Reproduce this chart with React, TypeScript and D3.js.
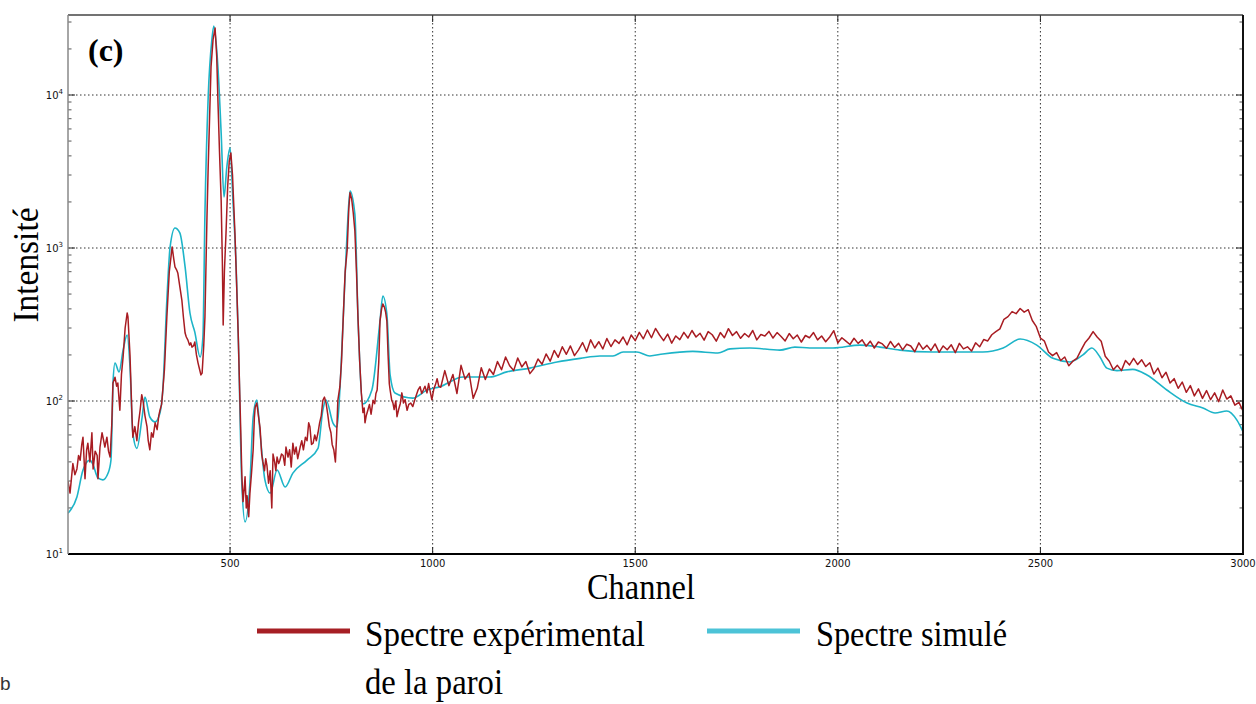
import * as d3 from 'd3';

const width = 1256;
const height = 704;
const plot = { left: 68, right: 1243, top: 15, bottom: 554 };

// experimental spectrum, peak region [channel, counts]
const expPeaks: [number, number][] = [
  [100, 30], [105, 25], [112, 39], [117, 33], [122, 36], [126, 44], [130, 41], [134, 52], [137, 58], [142, 31],
  [146, 48], [149, 53], [154, 40], [159, 62], [162, 36], [167, 47], [172, 44], [174, 31], [179, 50], [184, 62],
  [188, 55], [191, 50], [196, 58], [200, 47], [204, 43], [208, 70], [211, 131], [216, 143], [220, 125], [223, 131],
  [228, 87], [232, 150], [236, 194], [241, 300], [246, 376], [248, 354], [253, 200], [258, 78], [260, 58], [265, 68],
  [270, 55], [274, 72], [278, 87], [282, 110], [285, 101], [290, 80], [295, 68], [298, 55], [302, 48], [306, 62],
  [310, 58], [315, 72], [320, 65], [324, 80], [327, 87], [331, 95], [334, 118], [338, 160], [344, 354], [350, 700],
  [357, 1016], [361, 850], [364, 752], [368, 720], [371, 687], [376, 560], [381, 457], [385, 350], [389, 278], [392, 262],
  [396, 250], [400, 232], [403, 240], [406, 225], [410, 230], [413, 243], [417, 200], [421, 177], [425, 160], [428, 148],
  [431, 152], [435, 230], [438, 354], [443, 1594], [446, 3384], [450, 8000], [453, 15240], [458, 23000], [463, 27400], [467, 18000],
  [470, 9270], [474, 4200], [478, 2060], [481, 800], [483, 314], [486, 700], [490, 1254], [494, 2500], [498, 3700], [502, 4180],
  [506, 3000], [512, 1254], [516, 600], [520, 278], [524, 110], [527, 55], [529, 33], [532, 22], [535, 27], [537, 32],
  [540, 20], [542, 24], [546, 17.5], [549, 25], [553, 34], [557, 48], [560, 78], [562, 91], [566, 97], [570, 80],
  [574, 67], [578, 45], [581, 40], [585, 35], [588, 42], [591, 38], [595, 29], [599, 35], [603, 20], [606, 45],
  [610, 40], [613, 35], [616, 43], [620, 39], [623, 41], [627, 45], [631, 44], [635, 38], [638, 50], [643, 43],
  [647, 48], [651, 37], [655, 53], [659, 45], [663, 50], [667, 42], [673, 50], [677, 55], [681, 48], [686, 58],
  [690, 55], [694, 72], [697, 68], [701, 52], [705, 53], [709, 60], [713, 55], [717, 62], [721, 72], [725, 80],
  [729, 101], [733, 106], [737, 97], [741, 82], [745, 68], [749, 62], [752, 52], [756, 48], [760, 40], [763, 60],
  [766, 101], [771, 124], [775, 180], [779, 333], [784, 700], [789, 971], [793, 1800], [796, 2300], [800, 2100], [804, 1700],
  [808, 1300], [812, 700], [816, 333], [820, 180], [824, 113], [828, 84], [831, 90], [833, 72], [836, 80], [840, 87],
  [844, 95], [848, 82], [853, 101], [857, 96], [860, 112], [863, 118], [867, 180], [870, 333], [874, 400], [877, 431],
  [881, 410], [884, 380], [887, 333], [890, 200], [893, 130], [895, 118], [899, 101], [902, 97], [905, 88], [909, 100],
  [912, 79], [916, 88], [920, 96], [924, 113], [928, 97], [932, 102], [937, 87], [941, 95], [946, 97], [951, 92],
  [955, 100], [960, 110], [964, 118], [969, 124], [973, 112], [977, 118], [981, 125], [986, 113], [990, 130], [994, 115],
  [998, 102], [1003, 120], [1007, 128], [1011, 140], [1015, 125], [1020, 123],
];

// experimental spectrum, continuum, one value every 10 channels from 1030
const expTailStart = 1030;
const expTailStep = 10;
const expTail = [
  158, 126, 149, 112, 171, 139, 152, 104, 121, 165,
  138, 162, 149, 181, 160, 194, 170, 158, 191, 167,
  181, 151, 163, 188, 174, 203, 182, 214, 193, 226,
  202, 229, 198, 216, 241, 210, 251, 222, 244, 219,
  256, 227, 251, 238, 262, 233, 270, 248, 281, 255,
  291, 259, 298, 270, 248, 274, 239, 266, 252, 281,
  258, 289, 262, 277, 250, 284, 271, 246, 280, 259,
  297, 268, 284, 257, 276, 262, 289, 251, 272, 266,
  285, 258, 280, 264, 247, 276, 255, 270, 243, 268,
  259, 280, 251, 266, 244, 262, 288, 240, 259, 246,
  234, 257, 238, 251, 228, 246, 222, 243, 236, 221,
  245, 224, 238, 216, 235, 229, 210, 240, 218, 231,
  214, 236, 208, 229, 216, 233, 207, 238, 219, 226,
  212, 240, 226, 252, 247, 271, 284, 296, 342, 356,
  384, 372, 402, 381, 395, 336, 306, 258, 246, 209,
  198, 207, 184, 194, 170, 182, 190, 214, 240, 258,
  284, 262, 246, 196, 182, 160, 171, 158, 184, 172,
  190, 173, 186, 168, 178, 150, 164, 142, 154, 131,
  140, 121, 133, 114, 126, 108, 120, 104, 117, 102,
  113, 99, 118, 103, 108, 94, 98, 86,
];

// simulated spectrum [channel, counts]
const simulated: [number, number][] = [
  [100, 18.5], [122, 23.6], [137, 35.4], [154, 41.1], [162, 38.2], [174, 31.4], [186, 30.5], [199, 33.8], [206, 41], [209, 75],
  [211, 131], [216, 177], [226, 155], [236, 215], [246, 270], [253, 167], [260, 61.8], [270, 49], [283, 78.6], [290, 106],
  [302, 78.6], [315, 73], [327, 83.5], [334, 118], [344, 457], [352, 1016], [364, 1352], [376, 1254], [389, 752], [401, 376],
  [413, 282], [426, 194], [433, 262], [438, 1694], [446, 9700], [455, 22860], [460, 28250], [470, 15240], [478, 5650], [485, 2155],
  [492, 3384], [500, 4510], [507, 2060], [515, 752], [520, 278], [529, 29], [537, 16.2], [549, 29], [557, 78.6], [566, 101.6],
  [574, 61.8], [586, 30.5], [599, 25], [616, 35.4], [636, 27.4], [655, 33.8], [690, 41.1], [717, 49], [729, 87.3], [737, 101.6],
  [754, 71.8], [764, 67.6], [771, 118], [779, 333], [789, 1274], [796, 2360], [808, 1667], [816, 333], [828, 95.5], [850, 118],
  [870, 333], [877, 486], [887, 370], [895, 148], [907, 112.8], [951, 104.5], [986, 118], [1018, 124], [1075, 143.6], [1141, 143.6],
  [1183, 155], [1240, 164], [1307, 180], [1364, 190], [1413, 197], [1445, 197], [1470, 209], [1504, 209], [1536, 197], [1568, 203],
  [1642, 211], [1704, 206], [1734, 219], [1783, 222], [1857, 215], [1894, 225], [1931, 222], [1988, 222], [2055, 232], [2104, 225],
  [2153, 215], [2235, 209], [2326, 209], [2358, 209], [2408, 222], [2450, 254], [2491, 232], [2531, 190], [2573, 180], [2605, 200],
  [2627, 222], [2647, 194], [2664, 164], [2689, 158], [2728, 161], [2763, 148], [2812, 118], [2862, 97], [2901, 90], [2931, 83.5],
  [2960, 86], [2985, 75], [3000, 63],
];

const xTicks = [500, 1000, 1500, 2000, 2500, 3000];
const yMajor = [10, 100, 1000, 10000];

const serif = '"Liberation Serif", "Times New Roman", serif';
const sans = '"DejaVu Sans", sans-serif';
const redColor = '#a81c22';
const cyanColor = '#1db4c8';

export default function App() {
  const x = d3.scaleLinear().domain([100, 3000]).range([plot.left, plot.right]);
  const yTop = Math.pow(10, 1 + (plot.bottom - plot.top) / 153);
  const y = d3.scaleLog().domain([10, yTop]).range([plot.bottom, plot.top]);

  const experimental: [number, number][] = expPeaks.concat(
    expTail.map((v, i) => [expTailStart + i * expTailStep, v] as [number, number])
  );

  const rawLine = d3
    .line<[number, number]>()
    .x((d) => x(d[0]))
    .y((d) => y(d[1]));
  const smoothLine = d3
    .line<[number, number]>()
    .x((d) => x(d[0]))
    .y((d) => y(d[1]))
    .curve(d3.curveMonotoneX);

  const minor = y.ticks().filter((t) => !yMajor.includes(t) && t < yTop);

  return (
    <svg width={width} height={height} style={{ position: 'absolute', left: 0, top: 0, background: '#fff' }}>
      <defs>
        <clipPath id="plotClip">
          <rect x={plot.left} y={plot.top} width={plot.right - plot.left} height={plot.bottom - plot.top} />
        </clipPath>
      </defs>

      {/* grid */}
      <g stroke="#333" strokeWidth={1} strokeDasharray="1.5 2.5">
        {xTicks.slice(0, -1).map((t) => (
          <line key={'gx' + t} x1={x(t)} x2={x(t)} y1={plot.top} y2={plot.bottom} />
        ))}
        {yMajor.slice(1).map((t) => (
          <line key={'gy' + t} x1={plot.left} x2={plot.right} y1={y(t)} y2={y(t)} />
        ))}
      </g>

      {/* ticks */}
      <g stroke="#222" strokeWidth={1}>
        {xTicks.map((t) => (
          <g key={'tx' + t}>
            <line x1={x(t)} x2={x(t)} y1={plot.bottom} y2={plot.bottom - 7} />
            <line x1={x(t)} x2={x(t)} y1={plot.top} y2={plot.top + 7} />
          </g>
        ))}
        {yMajor.map((t) => (
          <g key={'ty' + t}>
            <line x1={plot.left} x2={plot.left + 7} y1={y(t)} y2={y(t)} />
            <line x1={plot.right} x2={plot.right - 7} y1={y(t)} y2={y(t)} />
          </g>
        ))}
        {minor.map((t) => (
          <g key={'tm' + t} stroke="#555">
            <line x1={plot.left} x2={plot.left + 3.5} y1={y(t)} y2={y(t)} />
            <line x1={plot.right} x2={plot.right - 3.5} y1={y(t)} y2={y(t)} />
          </g>
        ))}
      </g>

      {/* curves */}
      <g clipPath="url(#plotClip)" fill="none" strokeLinejoin="round">
        <path d={smoothLine(simulated) || ''} stroke={cyanColor} strokeWidth={1.6} />
        <path d={rawLine(experimental) || ''} stroke={redColor} strokeWidth={1.5} />
      </g>

      {/* frame */}
      <line x1={plot.left} x2={plot.right} y1={plot.top} y2={plot.top} stroke="#444" strokeWidth={1.5} />
      <line x1={plot.left} x2={plot.right + 1} y1={plot.bottom} y2={plot.bottom} stroke="#000" strokeWidth={2} />
      <line x1={plot.left} x2={plot.left} y1={plot.top} y2={plot.bottom} stroke="#888" strokeWidth={1.5} />
      <line x1={plot.right} x2={plot.right} y1={plot.top} y2={plot.bottom} stroke="#111" strokeWidth={2} />

      {/* tick labels */}
      <g fontFamily={sans} fontSize={10} fill="#111">
        {xTicks.map((t) => (
          <text key={'lx' + t} x={x(t)} y={plot.bottom + 13} textAnchor="middle">
            {t}
          </text>
        ))}
        {yMajor.map((t) => (
          <text key={'ly' + t} x={plot.left - 5} y={y(t) + 4} textAnchor="end">
            10
            <tspan dy={-5} fontSize={7}>
              {Math.round(Math.log10(t))}
            </tspan>
          </text>
        ))}
      </g>

      {/* panel label */}
      <text x={88} y={61} fontFamily={serif} fontWeight="bold" fontSize={32} fill="#000">
        (c)
      </text>

      {/* axis titles */}
      <text
        x={641}
        y={599}
        fontFamily={serif}
        fontSize={36}
        textAnchor="middle"
        textLength={108}
        lengthAdjust="spacingAndGlyphs"
        fill="#000"
      >
        Channel
      </text>
      <text
        transform="translate(38,265) rotate(-90)"
        fontFamily={serif}
        fontSize={36}
        textAnchor="middle"
        textLength={115}
        lengthAdjust="spacingAndGlyphs"
        fill="#000"
      >
        Intensité
      </text>

      {/* legend */}
      <line x1={257} x2={350} y1={631} y2={631} stroke="#a61f24" strokeWidth={5} />
      <text x={365} y={646} fontFamily={serif} fontSize={36} textLength={280} lengthAdjust="spacingAndGlyphs" fill="#000">
        Spectre  expérimental
      </text>
      <text x={365} y={694} fontFamily={serif} fontSize={36} textLength={138} lengthAdjust="spacingAndGlyphs" fill="#000">
        de la paroi
      </text>
      <line x1={707} x2={800} y1={631} y2={631} stroke="#4cc3d7" strokeWidth={5} />
      <text x={816} y={646} fontFamily={serif} fontSize={36} textLength={191} lengthAdjust="spacingAndGlyphs" fill="#000">
        Spectre simulé
      </text>

      <text x={0} y={690} fontFamily='"Liberation Sans", Arial, sans-serif' fontSize={19} fill="#333">
        b
      </text>
    </svg>
  );
}
